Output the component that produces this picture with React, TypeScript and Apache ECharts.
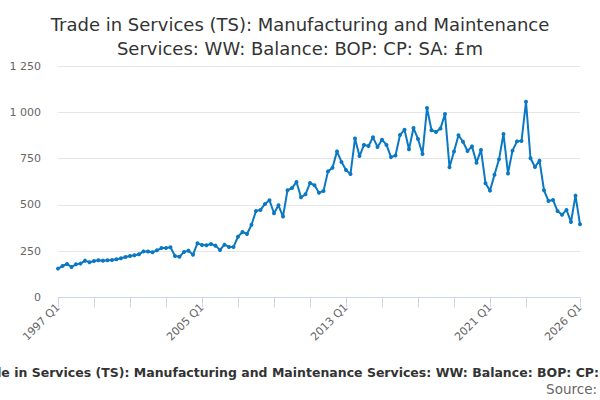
import { useEffect, useRef } from 'react';
import * as echarts from 'echarts';

// Quarterly balance, £m, 1997 Q1 – 2026 Q1
const START_YEAR = 1997;
const VALUES = [
  156, 170, 181, 165, 179, 183, 199, 190, 197, 201, 199, 201, 203, 206, 212, 219,
  224, 228, 233, 249, 248, 244, 255, 267, 267, 271, 224, 220, 246, 253, 231, 293,
  283, 282, 289, 280, 257, 285, 273, 273, 328, 354, 343, 393, 467, 473, 505, 525,
  455, 498, 437, 579, 591, 624, 541, 557, 618, 606, 566, 575, 681, 701, 789, 732,
  689, 667, 858, 764, 824, 818, 865, 813, 852, 824, 758, 767, 877, 906, 800, 915,
  856, 775, 1023, 903, 894, 913, 991, 703, 788, 876, 841, 791, 816, 728, 797, 617,
  577, 663, 746, 883, 670, 793, 843, 845, 1057, 752, 705, 739, 579, 521, 527, 467,
  447, 473, 408, 550, 395,
];
const QUARTERS = VALUES.map((_, i) => `${START_YEAR + Math.floor(i / 4)} Q${(i % 4) + 1}`);
const LAST = QUARTERS.length - 1;

const TITLE = 'Trade in Services (TS): Manufacturing and Maintenance\nServices: WW: Balance: BOP: CP: SA: £m';
const CAPTION = 'Trade in Services (TS): Manufacturing and Maintenance Services: WW: Balance: BOP: CP: SA: £m';
const SOURCE = 'Source:';

const FONT = 'DejaVu Sans';
const LINE_COLOR = '#0a78c2';

export default function App() {
  const ref = useRef<HTMLDivElement>(null);

  useEffect(() => {
    if (!ref.current) return;
    const chart = echarts.init(ref.current, null, { renderer: 'svg' });

    chart.setOption({
      animation: false,
      backgroundColor: '#ffffff',
      textStyle: { fontFamily: FONT },
      title: {
        text: TITLE,
        left: 'center',
        top: 7,
        textStyle: { fontFamily: FONT, fontSize: 18, fontWeight: 'normal', color: '#333333', lineHeight: 24 },
      },
      grid: { left: 58, right: 20, top: 66, bottom: 102.5 },
      xAxis: {
        type: 'category',
        data: QUARTERS,
        boundaryGap: false,
        axisLine: { lineStyle: { color: '#ccd6eb', width: 1 } },
        axisTick: {
          length: 10,
          lineStyle: { color: '#ccd6eb' },
          interval: (i: number) => (i % 8 === 0 && i <= 104) || i === LAST,
        },
        axisLabel: {
          rotate: 45,
          margin: 8,
          color: '#666666',
          fontSize: 11,
          fontFamily: FONT,
          interval: (i: number) => i % 32 === 0 || i === LAST,
        },
        splitLine: { show: false },
      },
      yAxis: {
        type: 'value',
        min: 0,
        max: 1250,
        interval: 250,
        axisLine: { show: false },
        axisTick: { show: false },
        axisLabel: {
          margin: 17,
          color: '#666666',
          fontSize: 11,
          fontFamily: FONT,
          formatter: (v: number) => String(v).replace(/\B(?=(\d{3})+(?!\d))/g, ' '),
        },
        splitLine: { lineStyle: { color: '#e6e6e6', width: 1 } },
      },
      series: [
        {
          type: 'line',
          data: VALUES,
          showAllSymbol: true,
          symbol: 'circle',
          symbolSize: 4,
          lineStyle: { color: LINE_COLOR, width: 2 },
          itemStyle: { color: LINE_COLOR },
        },
      ],
      graphic: [
        {
          // wider than the chart in the original, so both ends are cut off
          type: 'text',
          x: 312,
          y: 372,
          style: {
            text: CAPTION,
            fill: '#333333',
            font: `bold 12.5px "${FONT}"`,
            textAlign: 'center',
            textVerticalAlign: 'middle',
          },
        },
        {
          type: 'text',
          x: 597,
          y: 389,
          style: {
            text: SOURCE,
            fill: '#666666',
            font: `13.5px "${FONT}"`,
            textAlign: 'right',
            textVerticalAlign: 'middle',
          },
        },
      ],
    });

    return () => chart.dispose();
  }, []);

  return (
    <div
      ref={ref}
      style={{ position: 'absolute', left: 0, top: 0, width: 600, height: 400, overflow: 'hidden' }}
    />
  );
}
